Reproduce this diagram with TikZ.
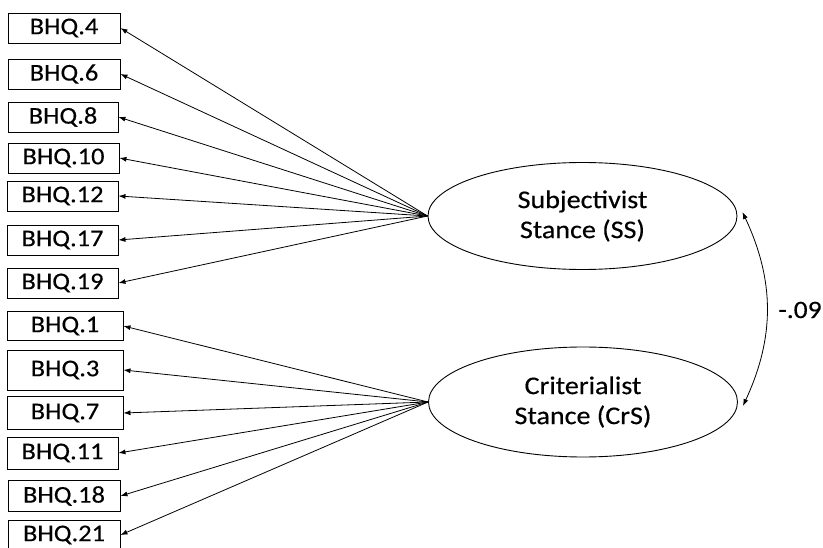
\documentclass[tikz,border=0pt]{standalone}
\usepackage{fontspec}
\setmainfont{Carlito}[FakeStretch=1.1, FakeBold=0.4]
\usetikzlibrary{shapes.geometric,arrows.meta}
\tikzset{
  item/.style={draw, line width=0.9pt, minimum width=112pt, minimum height=30pt, inner sep=0pt, font=\fontsize{24}{26}\selectfont},
  factor/.style={draw, ellipse, line width=0.9pt, minimum width=309pt, minimum height=107pt, inner sep=0pt, align=center, font=\fontsize{25.5}{30}\selectfont},
  load/.style={-{Latex[length=7pt,width=5pt]}, line width=0.8pt},
}
\begin{document}
\begin{tikzpicture}[x=1pt, y=-1pt]
  \useasboundingbox (0,0) rectangle (823,548);
  \node[item] (q4) at (64,28) {BHQ.4};
  \node[item] (q6) at (64,74) {BHQ.6};
  \node[item, minimum width=110pt] (q8) at (63,117) {BHQ.8};
  \node[item, minimum width=111pt] (q10) at (63.5,158) {BHQ.10};
  \node[item, minimum width=111pt] (q12) at (62.5,196) {BHQ.12};
  \node[item, minimum width=111pt] (q17) at (62.5,240) {BHQ.17};
  \node[item, minimum width=111pt] (q19) at (62.5,283) {BHQ.19};
  \node[item, minimum width=116pt, minimum height=29pt] (q1) at (65,326) {BHQ.1};
  \node[item, minimum width=116pt, minimum height=40pt] (q3) at (65,370) {BHQ.3};
  \node[item, minimum width=116pt, minimum height=33pt] (q7) at (65,413) {BHQ.7};
  \node[item, minimum width=111pt, minimum height=32pt] (q11) at (62.5,453) {BHQ.11};
  \node[item, minimum height=31pt] (q18) at (64,496) {BHQ.18};
  \node[item] (q21) at (64,535) {BHQ.21};

  \node[factor] (ss) at (582.5,216) {Subjectivist\\Stance (SS)};
  \node[factor, minimum height=110pt] (crs) at (583,402) {Criterialist\\Stance (CrS)};

  \draw[load] (ss.west) -- (q4.east);
  \draw[load] (ss.west) -- (q6.east);
  \draw[load] (ss.west) -- (q8.east);
  \draw[load] (ss.west) -- (q10.east);
  \draw[load] (ss.west) -- (q12.east);
  \draw[load] (ss.west) -- (q17.east);
  \draw[load] (ss.west) -- (q19.east);
  \draw[load] (crs.west) -- (q1.east);
  \draw[load] (crs.west) -- (q3.east);
  \draw[load] (crs.west) -- (q7.east);
  \draw[load] (crs.west) -- (q11.east);
  \draw[load] (crs.west) -- (q18.east);
  \draw[load] (crs.west) -- (q21.east);

  \draw[{Latex[length=7pt,width=5pt]}-{Latex[length=7pt,width=5pt]}, line width=0.8pt]
    ([xshift=5pt,yshift=4pt]ss.east) to[bend left=25] ([xshift=5pt,yshift=-4pt]crs.east);
  \node[font=\fontsize{25}{28}\selectfont] (r) at (800,310) {-.09};
\end{tikzpicture}
\end{document}
